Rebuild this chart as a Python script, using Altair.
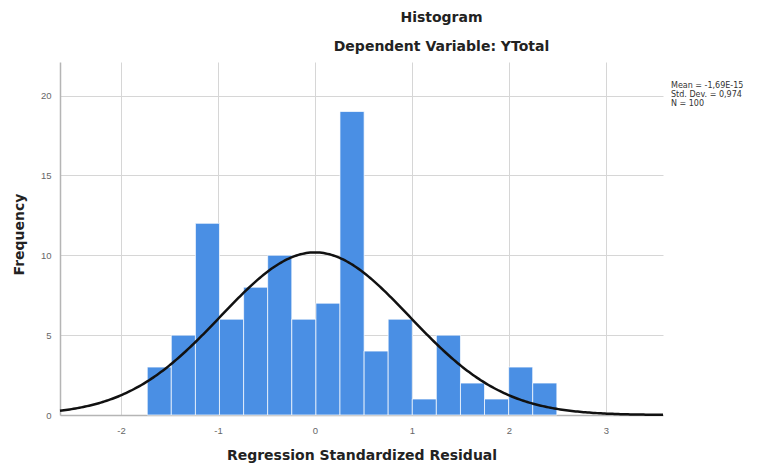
import altair as alt
import pandas as pd

# Histogram data
bin_edges = [-1.730, -1.482, -1.233, -0.985, -0.736, -0.488, -0.239, 0.010,
             0.258, 0.507, 0.755, 1.004, 1.252, 1.501, 1.749, 1.998, 2.246, 2.495]
counts = [3, 5, 12, 6, 8, 10, 6, 7, 19, 4, 6, 1, 5, 2, 1, 3, 2]

# Summary statistics shown on the chart
mean_val = 0.0
sd_val = 0.974
n_val = 100
stats_text = ["Mean = -1,69E-15", "Std. Dev. = 0,974", "N = 100"]

x_ticks = [-2, -1, 0, 1, 2, 3]
y_ticks = [0, 5, 10, 15, 20]
x_domain = [-2.63, 3.59]
y_domain = [0, 22.1]

bins = pd.DataFrame({"left": bin_edges[:-1], "right": bin_edges[1:], "count": counts})
bin_w = (bin_edges[-1] - bin_edges[0]) / len(counts)

xscale = alt.Scale(domain=x_domain, nice=False, zero=False)
yscale = alt.Scale(domain=y_domain, nice=False)

x_axis = alt.Axis(values=x_ticks, title="Regression Standardized Residual", grid=True,
                  ticks=False, labelPadding=10, labelFontSize=9.5, labelColor="#666",
                  labelFont="Liberation Sans", titleFont="DejaVu Sans", titleFontSize=14,
                  titleFontWeight="bold", titleColor="#222", titleY=40,
                  titleBaseline="middle", labelExpr="toString(datum.value)")
y_axis = alt.Axis(values=y_ticks, title="Frequency", grid=True, ticks=False,
                  labelPadding=9, labelFontSize=9.5, labelColor="#666",
                  labelFont="Liberation Sans", titleFont="DejaVu Sans", titleFontSize=14,
                  titleFontWeight="bold", titleColor="#222", titleAngle=-90,
                  titleX=-41, titleY=172, titleAlign="center", titleBaseline="middle")

bars = alt.Chart(bins).mark_rect(color="#4a8fe4", stroke="#ffffff", strokeWidth=1,
                                 strokeOpacity=0.7).encode(
    x=alt.X("left:Q", scale=xscale, axis=x_axis),
    x2="right:Q",
    y=alt.Y("count:Q", scale=yscale, axis=y_axis),
    y2=alt.datum(0),
)

curve = alt.Chart(alt.sequence(x_domain[0], x_domain[1] + 0.001, 0.02, as_="x")).transform_calculate(
    y=f"{n_val}*{bin_w}*exp(-0.5*pow((datum.x-{mean_val})/{sd_val},2))/({sd_val}*sqrt(2*PI))"
).mark_line(color="#111111", strokeWidth=2.5).encode(
    x=alt.X("x:Q", scale=xscale),
    y=alt.Y("y:Q", scale=yscale),
)

stats = alt.Chart(pd.DataFrame({"t": ["\n".join(stats_text)]})).mark_text(
    align="left", baseline="top", fontSize=8, lineHeight=9, lineBreak="\n",
    color="#333", font="DejaVu Sans"
).encode(x=alt.value(611), y=alt.value(20), text="t:N")

chart = alt.layer(bars, curve, stats).properties(
    width=603, height=353,
    autosize=alt.AutoSizeParams(type="none"),
    padding={"left": 52, "top": 54, "right": 88, "bottom": 49},
    title=alt.TitleParams(text=["Histogram", "Dependent Variable: YTotal"],
                          font="DejaVu Sans", fontSize=14, fontWeight="bold",
                          color="#222", lineHeight=29, anchor="middle", dx=80, offset=8),
).configure_view(stroke=None).configure_axis(
    gridColor="#d6d6d6", gridWidth=1, domainColor="#b5b5b5", domainWidth=1.5
)

chart.save("out.html", embed_options={"renderer": "svg", "actions": False})
